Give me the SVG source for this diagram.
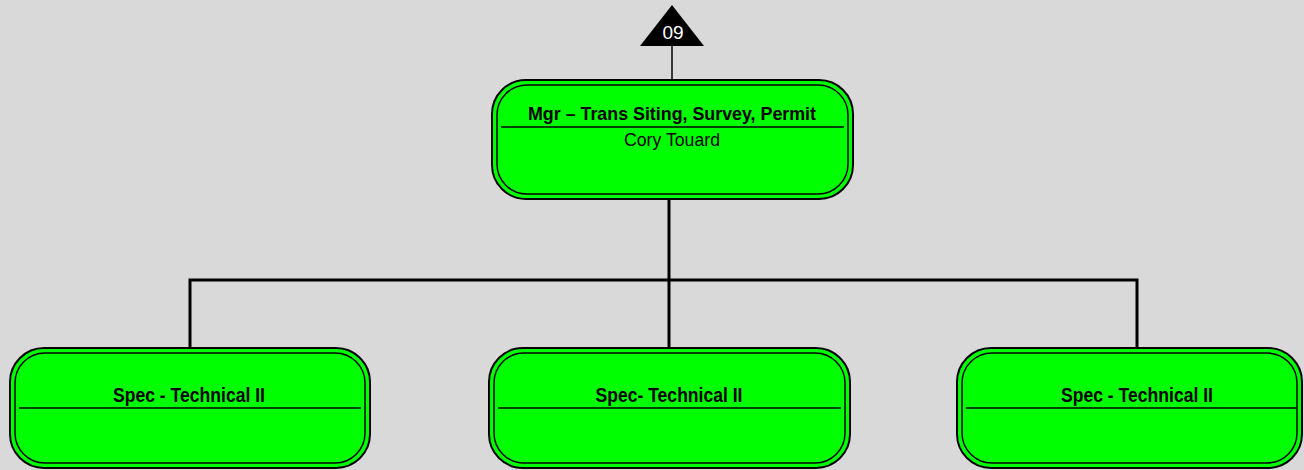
<svg xmlns="http://www.w3.org/2000/svg" width="1304" height="470" viewBox="0 0 1304 470">
<style>
.outer{fill:#00ff00;stroke:#000;stroke-width:2}
.inner{fill:none;stroke:#000;stroke-width:1.5}
.div{stroke:#000;stroke-width:1.5}
.t{font-family:"Liberation Sans",Arial,sans-serif;font-size:19px;font-weight:bold;fill:#000;text-anchor:middle}
.s{font-family:"Liberation Sans",Arial,sans-serif;font-size:20px;font-weight:bold;fill:#000;text-anchor:middle}
.n{font-family:"Liberation Sans",Arial,sans-serif;font-size:19px;fill:#000;text-anchor:middle}
.conn{stroke:#000;stroke-width:3;fill:none}
</style>
<rect width="1304" height="470" fill="#d9d9d9"/>
<g id="connectors">
<line x1="672" y1="46" x2="672" y2="80" stroke="#000" stroke-width="1.5"/>
<polyline class="conn" points="669,199 669,280"/>
<polyline class="conn" points="190,348 190,280 1137,280 1137,348"/>
<line class="conn" x1="669" y1="280" x2="669" y2="348"/>
</g>
<g id="marker09">
<polygon points="672,5 640,46 704,46" fill="#000"/>
<text x="673" y="39" font-family="Liberation Sans,Arial,sans-serif" font-size="19" fill="#fff" text-anchor="middle">09</text>
</g>
<g id="mgr">
<rect class="outer" x="492" y="80" width="361" height="119" rx="34"/>
<rect class="inner" x="497" y="85" width="351" height="109" rx="30"/>
<line class="div" x1="501" y1="127" x2="844" y2="127"/>
<text class="t" x="672" y="120" textLength="288" lengthAdjust="spacingAndGlyphs">Mgr –  Trans Siting, Survey, Permit</text>
<text class="n" x="672" y="146" textLength="96" lengthAdjust="spacingAndGlyphs">Cory Touard</text>
</g>
<g id="spec1">
<rect class="outer" x="10" y="348" width="360" height="120" rx="34"/>
<rect class="inner" x="15" y="353" width="350" height="110" rx="30"/>
<line class="div" x1="19" y1="408" x2="361" y2="408"/>
<text class="s" x="189" y="402" textLength="152" lengthAdjust="spacingAndGlyphs">Spec - Technical II</text>
</g>
<g id="spec2">
<rect class="outer" x="489" y="348" width="361" height="120" rx="34"/>
<rect class="inner" x="494" y="353" width="351" height="110" rx="30"/>
<line class="div" x1="498" y1="408" x2="841" y2="408"/>
<text class="s" x="669" y="402" textLength="147" lengthAdjust="spacingAndGlyphs">Spec- Technical II</text>
</g>
<g id="spec3">
<rect class="outer" x="957" y="348" width="345" height="120" rx="34"/>
<rect class="inner" x="962" y="353" width="335" height="110" rx="30"/>
<line class="div" x1="966" y1="408" x2="1297" y2="408"/>
<text class="s" x="1137" y="402" textLength="152" lengthAdjust="spacingAndGlyphs">Spec - Technical II</text>
</g>
</svg>
